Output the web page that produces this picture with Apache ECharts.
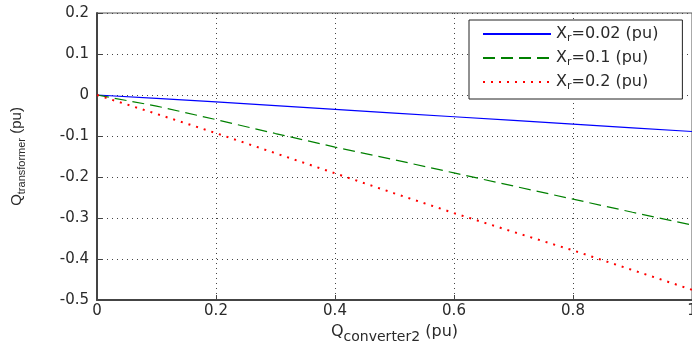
<!DOCTYPE html>
<html><head><meta charset="utf-8">
<script src="https://cdn.jsdelivr.net/npm/echarts@6/dist/echarts.min.js"></script>
<style>html,body{margin:0;padding:0;background:#fff}#c{width:692px;height:346px}</style>
</head><body><div id="c"></div>
<script>
const xValues = [0, 0.1, 0.2, 0.3, 0.4, 0.5, 0.6, 0.7, 0.8, 0.9, 1.0];
const seriesNames = ['X_r=0.02 (pu)', 'X_r=0.1 (pu)', 'X_r=0.2 (pu)'];
const xr002 = [0, -0.008, -0.017, -0.026, -0.035, -0.044, -0.053, -0.062, -0.071, -0.080, -0.089];
const xr01  = [0, -0.027, -0.060, -0.094, -0.127, -0.158, -0.190, -0.222, -0.254, -0.286, -0.317];
const xr02  = [0, -0.046, -0.093, -0.142, -0.191, -0.240, -0.288, -0.334, -0.379, -0.427, -0.475];
const legendSuffix = {'X_r=0.02 (pu)': '=0.02 (pu)', 'X_r=0.1 (pu)': '=0.1 (pu)', 'X_r=0.2 (pu)': '=0.2 (pu)'};

const font = 'DejaVu Sans, Verdana, sans-serif';
const fontN = 'Liberation Sans, Arial, sans-serif';
const txt = '#2a2a2a';
const pair = (arr) => xValues.map((x, i) => [x, arr[i]]);
const fmt = (v) => { const r = Math.round(v * 10) / 10; return r === 0 ? '0' : String(r); };

const chart = echarts.init(document.getElementById('c'), null, {renderer: 'canvas'});
chart.setOption({
  animation: false,
  backgroundColor: '#fff',
  grid: {left: 97, top: 13, right: 0, bottom: 46, show: true, borderColor: '#555', borderWidth: 1,
         outerBoundsMode: 'none', containLabel: false},
  legend: {
    orient: 'vertical', left: 469, top: 20,
    padding: [6, 24, 7, 13], itemGap: 6, itemWidth: 68, itemHeight: 14,
    backgroundColor: '#fff', borderColor: '#222', borderWidth: 1, borderRadius: 0,
    data: seriesNames,
    itemStyle: {opacity: 0},
    formatter: (n) => '{a|X}{s|r}{a|' + legendSuffix[n] + '}',
    textStyle: {
      fontFamily: font, color: txt,
      rich: {
        a: {fontFamily: font, fontSize: 16, color: txt},
        s: {fontFamily: font, fontSize: 11, color: txt, padding: [9, 0, 0, 0]}
      }
    }
  },
  xAxis: {
    type: 'value', min: 0, max: 1, interval: 0.2,
    name: '{a|Q}{s|converter2}{a| (pu)}', nameLocation: 'middle', nameGap: 12,
    nameTextStyle: {
      fontFamily: font, color: txt,
      rich: {
        a: {fontFamily: font, fontSize: 16, color: txt},
        s: {fontFamily: font, fontSize: 14, color: txt, padding: [11, 0, 0, 0]}
      }
    },
    axisLine: {show: true, onZero: false, lineStyle: {color: '#444', width: 2}},
    axisTick: {show: true, inside: true, length: 5, lineStyle: {color: '#444'}},
    axisLabel: {fontFamily: font, fontSize: 15, color: txt, margin: 4, formatter: fmt},
    splitLine: {show: true, lineStyle: {color: '#444', type: [1, 4], width: 1}}
  },
  yAxis: {
    type: 'value', min: -0.5, max: 0.2, interval: 0.1,
    name: '{a|Q}{s|transformer}{a| (pu)}', nameLocation: 'middle', nameGap: 70, nameRotate: 90,
    nameTextStyle: {
      fontFamily: fontN, color: txt,
      rich: {
        a: {fontFamily: fontN, fontSize: 15, color: txt},
        s: {fontFamily: fontN, fontSize: 11, color: txt, padding: [10, 0, 0, 0]}
      }
    },
    axisLine: {show: true, onZero: false, lineStyle: {color: '#444', width: 2}},
    axisTick: {show: true, inside: true, length: 5, lineStyle: {color: '#444'}},
    axisLabel: {fontFamily: font, fontSize: 15, color: txt, margin: 8, formatter: fmt},
    splitLine: {show: true, lineStyle: {color: '#444', type: [1, 4], width: 1}}
  },
  series: [
    {name: seriesNames[0], type: 'line', data: pair(xr002), symbol: 'none',
     lineStyle: {color: '#0000ff', width: 1.2, type: 'solid'}, itemStyle: {color: '#0000ff'}},
    {name: seriesNames[1], type: 'line', data: pair(xr01), symbol: 'none',
     lineStyle: {color: '#008000', width: 1.2, type: [12, 6]}, itemStyle: {color: '#008000'}},
    {name: seriesNames[2], type: 'line', data: pair(xr02), symbol: 'none',
     lineStyle: {color: '#ff0000', width: 2, type: [2, 6]}, itemStyle: {color: '#ff0000'}}
  ]
});
</script></body></html>
